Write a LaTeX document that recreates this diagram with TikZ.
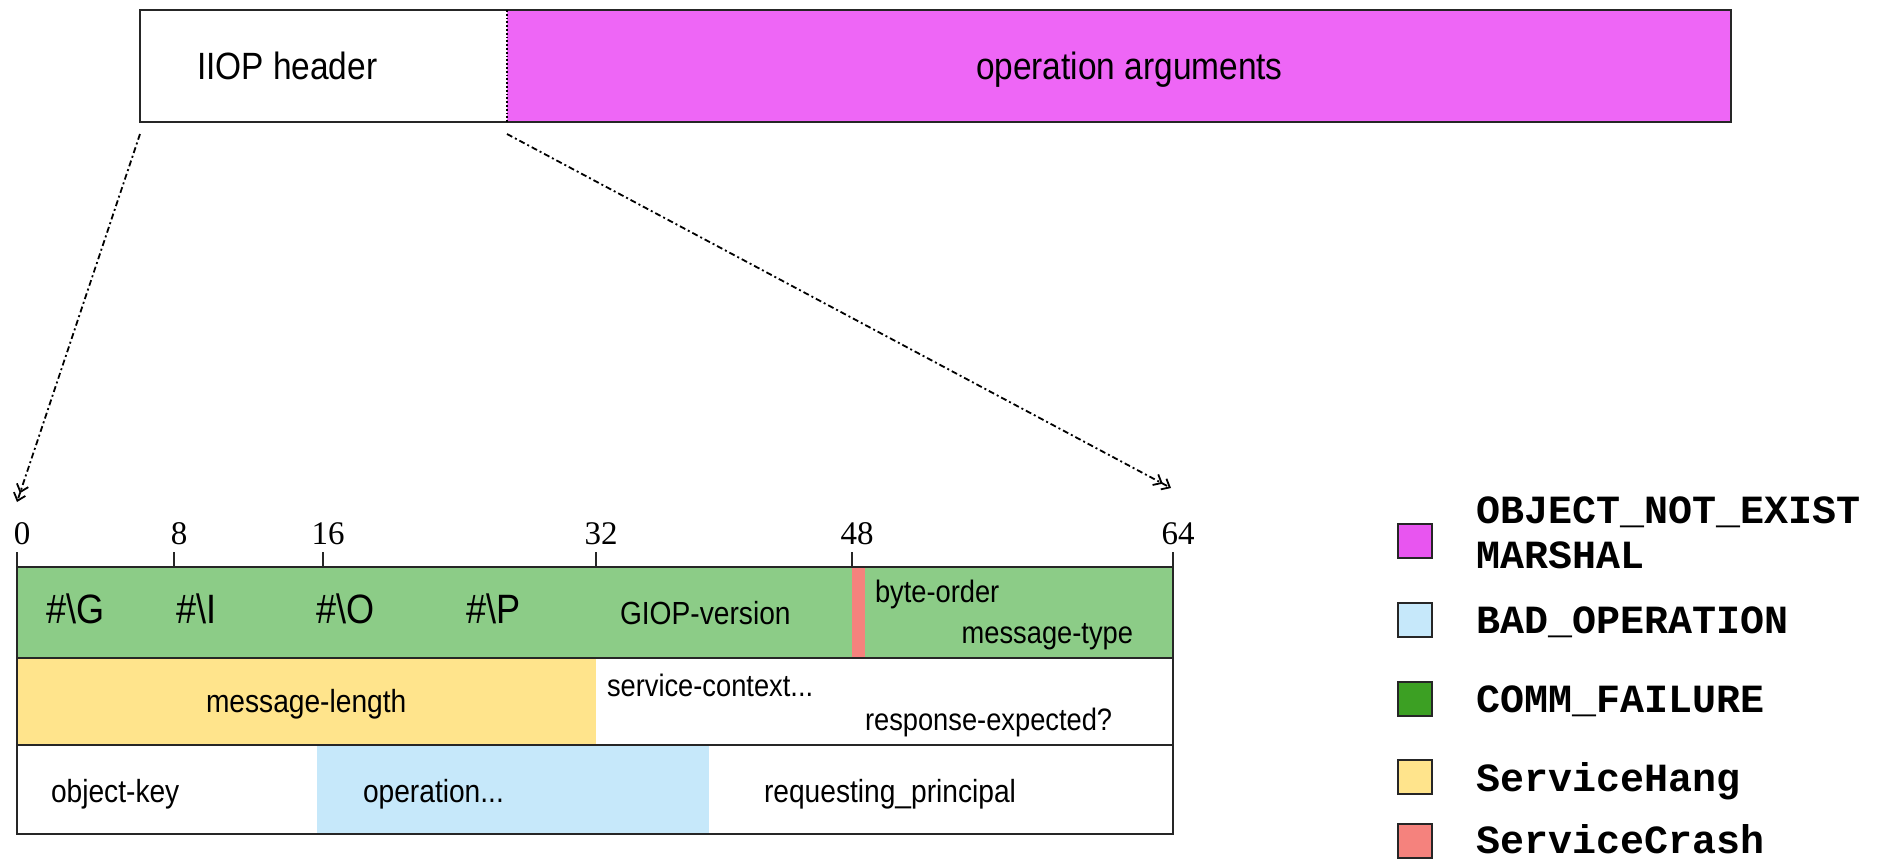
\documentclass[tikz,border=0pt]{standalone}
\usepackage{fontspec}
\setmainfont{Liberation Sans}
\newfontfamily\narrowsans[FakeStretch=0.88]{Liberation Sans}
\newfontfamily\bitserif{Liberation Serif}
\newfontfamily\legmono{Liberation Mono}
\usetikzlibrary{arrows.meta}
\definecolor{argmag}{RGB}{238,102,246}
\definecolor{legmag}{RGB}{232,85,240}
\definecolor{rowgreen}{RGB}{140,204,135}
\definecolor{leggreen}{RGB}{60,160,35}
\definecolor{hangyellow}{RGB}{255,228,140}
\definecolor{opblue}{RGB}{198,232,250}
\definecolor{crashred}{RGB}{245,130,125}
\newcommand{\fsz}[1]{\fontsize{#1}{#1}\selectfont}
\begin{document}
\begin{tikzpicture}[x=1pt,y=-1pt,
  cellbox/.style={anchor=north west, inner sep=0pt, outer sep=0pt},
  lbl/.style={anchor=base west, inner sep=0pt, outer sep=0pt},
  biglbl/.style={lbl, font=\narrowsans\fsz{38}},
  hashlbl/.style={lbl, font=\narrowsans\fsz{41}},
  midlbl/.style={lbl, font=\narrowsans\fsz{32}},
  smalllbl/.style={lbl, font=\narrowsans\fsz{31}},
  bitlbl/.style={anchor=base, inner sep=0pt, font=\bitserif\fsz{33}},
  frameline/.style={line width=2.5pt, black!85},
  tickline/.style={line width=2pt, black!85},
  conn/.style={line width=1.8pt, dash pattern=on 6pt off 3pt on 2pt off 3pt,
    -{Straight Barb[length=7pt,width=12pt,line width=1.8pt]Straight Barb[length=7pt,width=12pt,line width=1.8pt]}},
  legbox/.style={draw=black!85, line width=2.5pt, minimum width=34pt, minimum height=34pt, inner sep=0pt},
  legtxt/.style={anchor=base west, inner sep=0pt, font=\legmono\bfseries\fsz{40}}
]
\useasboundingbox (0,0) rectangle (1879,860);

% ---- top message ----
\node[cellbox, minimum width=367pt, minimum height=112pt] (hdr) at (140,10) {};
\node[cellbox, fill=argmag, minimum width=1224pt, minimum height=112pt] (args) at (507,10) {};
\draw[frameline] (hdr.north west) rectangle (args.south east);
\draw[line width=1.8pt, dotted] (args.north west) -- (args.south west);
\node[biglbl] (hdrtxt) at (197,79) {IIOP header};
\node[biglbl] (argtxt) at (976,79) {operation arguments};

% ---- expansion arrows ----
\coordinate (tip0) at (17,502);
\coordinate (tip64) at (1171,488);
\draw[conn] ([yshift=-12pt]hdr.south west) -- (tip0);
\draw[conn] ([yshift=-12pt]hdr.south east) -- (tip64);

% ---- header fields: fills ----
\node[cellbox, fill=rowgreen, minimum width=1156pt, minimum height=91pt] (row1) at (17,567) {};
\node[cellbox, fill=crashred, minimum width=13pt, minimum height=91pt] (border) at (852,567) {};
\node[cellbox, fill=hangyellow, minimum width=579pt, minimum height=87pt] (msglen) at (17,658) {};
\node[cellbox, fill=opblue, minimum width=392pt, minimum height=89pt] (oper) at (317,745) {};

% frame and grid
\draw[frameline] (17,567) rectangle (1173,834);
\draw[frameline] (17,658) -- (1173,658);
\draw[frameline] (17,745) -- (1173,745);

% ticks and bit labels
\foreach \xx/\bb in {17/0,174/8,323/16,596/32,852/48,1173/64}{
  \draw[tickline] (\xx,552) -- (\xx,567);
  \node[bitlbl] (bit\bb) at (\xx+5,544) {\bb};
}

% row 1 text
\node[hashlbl] (magG) at (46,623) {\#\textbackslash G};
\node[hashlbl] (magI) at (176,623) {\#\textbackslash I};
\node[hashlbl] (magO) at (316,623) {\#\textbackslash O};
\node[hashlbl] (magP) at (466,623) {\#\textbackslash P};
\node[midlbl] (giop) at (620,624) {GIOP-version};
\node[smalllbl] (byteord) at (875,602) {byte-order};
\node[smalllbl, anchor=base east] (msgtype) at (1133,643) {message-type};
% row 2 text
\node[midlbl] (msglentxt) at (206,712) {message-length};
\node[smalllbl] (svcctx) at (607,696) {service-context...};
\node[smalllbl] (respexp) at (865,730) {response-expected?};
% row 3 text
\node[midlbl] (objkey) at (51,802) {object-key};
\node[midlbl] (opertxt) at (363,802) {operation...};
\node[midlbl] (reqprin) at (764,802) {requesting\_principal};

% ---- legend ----
\node[legbox, fill=legmag] (lg1) at (1415,541) {};
\node[legbox, fill=opblue] (lg2) at (1415,620) {};
\node[legbox, fill=leggreen] (lg3) at (1415,699) {};
\node[legbox, fill=hangyellow] (lg4) at (1415,777) {};
\node[legbox, fill=crashred] (lg5) at (1415,841) {};
\node[legtxt] (lt1a) at (1476,523) {OBJECT\_NOT\_EXIST};
\node[legtxt] (lt1b) at (1476,568) {MARSHAL};
\node[legtxt] (lt2) at (1476,633) {BAD\_OPERATION};
\node[legtxt] (lt3) at (1476,712) {COMM\_FAILURE};
\node[legtxt] (lt4) at (1476,791) {ServiceHang};
\node[legtxt] (lt5) at (1476,853) {ServiceCrash};
\end{tikzpicture}
\end{document}
